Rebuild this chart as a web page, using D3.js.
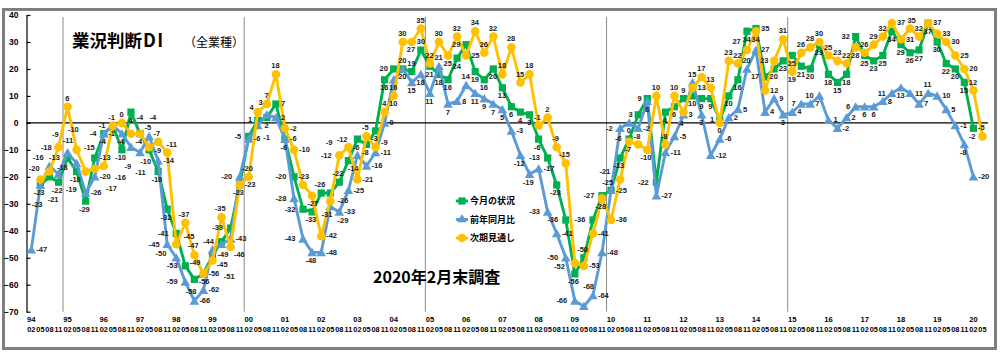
<!DOCTYPE html>
<html><head><meta charset="utf-8">
<script src="https://cdn.jsdelivr.net/npm/d3@7"></script>
<style>body{margin:0;background:#fff}svg{display:block}</style>
</head><body>
<svg id="c" width="1000" height="360"></svg>
<script>
// ---- data ----
const years = ["94","95","96","97","98","99","00","01","02","03","04","05","06","07","08","09","10","11","12","13","14","15","16","17","18","19","20"];
const quarters = ["02","05","08","11"];
const yTicks = [40,30,20,10,0,-10,-20,-30,-40,-50,-60,-70];
const seriesNames = ["今月の状況","前年同月比","次期見通し"];
// 今月の状況 (green)
const current = [null,-23,-20,-22,-13,-18,-29,-13,-4,-1,-10,4,-4,-10,-18,-32,-41,-53,-58,-56,-49,-44,-39,-23,-5,1,2,7,-6,-20,-32,-33,-26,-26,-22,-14,-6,-8,-3,16,20,20,19,27,21,18,16,24,29,19,16,20,13,6,4,3,-6,-13,-23,-36,-56,-50,-36,-27,-25,-13,-6,3,9,-22,4,6,9,10,9,9,1,10,16,34,35,17,20,23,25,21,20,29,18,15,18,32,25,23,25,34,29,26,27,37,30,22,20,15,-2];
// 前年同月比 (blue)
const yoy = [-47,-23,-16,-19,-11,-15,-26,-20,-4,-1,-4,-9,-11,-5,-14,-45,-50,-59,-66,-62,-47,-45,-43,-20,-6,-1,3,2,-6,-28,-43,-48,-48,-31,-33,-25,-12,-16,-11,0,16,20,15,18,11,21,7,8,14,11,9,7,5,-3,-12,-19,-17,-33,-41,-50,-66,-68,-64,-48,-25,-2,0,-2,8,-27,-11,-5,3,15,3,-12,-6,2,5,20,27,4,9,3,4,7,7,10,1,-2,2,6,6,6,8,11,13,11,7,11,10,5,-1,-8,-20];
// 次期見通し (orange)
const outlook = [null,-21,-18,-9,6,-10,-18,-17,-16,-1,0,-4,-4,-9,-7,-11,-45,-37,-49,-56,-51,-35,-46,-23,-20,4,7,18,-2,-10,-23,-27,-42,-29,-12,-9,-21,-5,-9,4,10,30,30,35,22,30,25,32,25,34,26,32,18,28,15,18,-1,2,-9,-15,-52,-53,-41,-28,-36,-21,-7,-8,-10,10,-8,10,4,13,17,13,0,23,22,27,34,12,23,31,19,26,28,30,25,23,22,28,26,29,32,37,31,35,32,37,33,30,25,20,12,-5];

// ---- build categories ----
const categories = [];
years.forEach(y => quarters.forEach(q => categories.push(y + "/" + q)));
categories.splice(106);

const svg = d3.select("#c");
const FONT = "'Liberation Sans', Arial, sans-serif";
const JP = "'Noto Sans CJK JP', 'Noto Sans', sans-serif";

// frame
svg.append("rect").attr("x", 3.5).attr("y", 9.5).attr("width", 992).attr("height", 339)
  .attr("fill", "#fff").attr("stroke", "#7f7f7f").attr("stroke-width", 3);

const x = d3.scaleBand().domain(categories).range([26.8, 987]).padding(0);
const bw = x.bandwidth();
const cx = c => x(c) + bw / 2;
const y = d3.scaleLinear().domain([-70, 40]).range([311.7, 15]);

// vertical separators at 95, 00, 05, 10, 15
["95/02","00/02","05/02","10/02","15/02"].forEach(c => {
  svg.append("line").attr("x1", x(c)).attr("x2", x(c)).attr("y1", 17).attr("y2", y(-70))
    .attr("stroke", "#8c8c8c").attr("stroke-width", 1);
});

// zero line
svg.append("line").attr("x1", 26.5).attr("x2", 988).attr("y1", y(0)).attr("y2", y(0))
  .attr("stroke", "#000").attr("stroke-width", 1.2);

// y axis
const ya = svg.append("g").attr("transform", "translate(26.5,0)")
  .call(d3.axisLeft(y).tickValues(yTicks).tickSize(-4).tickSizeOuter(0).tickPadding(8));
ya.select(".domain").attr("stroke", "#000").attr("stroke-width", 1.2);
ya.selectAll(".tick line").attr("stroke", "#000").attr("stroke-width", 1.2);
ya.selectAll("text").attr("font-family", FONT).attr("font-size", 8.5).attr("font-weight", "bold").attr("fill", "#000");

// x axis: quarters
const xq = svg.append("g").attr("transform", `translate(0,${y(-70)})`)
  .call(d3.axisBottom(x).tickSize(0).tickPadding(15).tickFormat(d => d.split("/")[1]));
xq.select(".domain").remove();
xq.selectAll("text").attr("font-family", FONT).attr("font-size", 7.4).attr("font-weight", "bold").attr("fill", "#000");
// x axis: years
const xy = svg.append("g").attr("transform", `translate(0,${y(-70)})`)
  .call(d3.axisBottom(x).tickSize(0).tickPadding(4.5)
    .tickValues(categories.filter(c => c.endsWith("/02")))
    .tickFormat(d => d.split("/")[0]));
xy.select(".domain").remove();
xy.selectAll("text").attr("font-family", FONT).attr("font-size", 7.6).attr("font-weight", "bold").attr("fill", "#000");

// series
const series = [
  {name: seriesNames[0], data: current, color: "#00b050", sym: d3.symbolSquare, size: 52, pref: ["below","left","right","above"]},
  {name: seriesNames[1], data: yoy, color: "#5b9bd5", sym: d3.symbolTriangle, size: 40, pref: ["right","below","left","above"]},
  {name: seriesNames[2], data: outlook, color: "#ffc000", sym: d3.symbolCircle, size: 58, pref: ["above","right","left","below"]}
];

const line = d3.line().defined(d => d.v !== null).x(d => cx(d.c)).y(d => y(d.v));
series.forEach(s => {
  const pts = s.data.map((v, i) => ({c: categories[i], v}));
  svg.append("path").datum(pts).attr("d", line).attr("fill", "none")
    .attr("stroke", s.color).attr("stroke-width", 2.9).attr("stroke-linejoin", "round");
  svg.append("g").selectAll("path").data(pts.filter(d => d.v !== null)).join("path")
    .attr("d", d3.symbol().type(s.sym).size(s.size))
    .attr("transform", d => `translate(${cx(d.c)},${y(d.v) + (s.sym === d3.symbolTriangle ? 1 : 0)})`)
    .attr("fill", s.color);
});

// ---- data labels with simple collision avoidance ----
const boxes = [];
series.forEach(s => s.data.forEach((v, i) => {
  if (v === null) return;
  const px = cx(categories[i]), py = y(v);
  boxes.push({x0: px - 3.5, x1: px + 3.5, y0: py - 3.5, y1: py + 3.5, w: 0.5});
}));
yTicks.forEach(t => boxes.push({x0: 6, x1: 25, y0: y(t) - 5, y1: y(t) + 5, w: 5}));
boxes.push({x0: 70, x1: 250, y0: 28, y1: 51, w: 3});
boxes.push({x0: 454, x1: 518, y0: 194, y1: 244, w: 3});
boxes.push({x0: 370, x1: 515, y0: 266, y1: 288, w: 3});
function overlap(a, b) {
  const ox = Math.min(a.x1, b.x1) - Math.max(a.x0, b.x0);
  const oy = Math.min(a.y1, b.y1) - Math.max(a.y0, b.y0);
  return (ox > 0 && oy > 0) ? ox * oy : 0;
}
const CH = 4.35, LH = 8.4;
const named = {
  above: (px, py, w) => ({x: px - w / 2, y: py - 4 - LH}),
  below: (px, py, w) => ({x: px - w / 2, y: py + 4}),
  right: (px, py, w) => ({x: px + 5, y: py - LH / 2}),
  left:  (px, py, w) => ({x: px - 5 - w, y: py - LH / 2})
};
const labels = [];
series.forEach(s => {
  s.data.forEach((v, i) => {
    if (v === null) return;
    const txt = String(v);
    const w = txt.length * CH + 0.4;
    const px = cx(categories[i]), py = y(v);
    const cands = s.pref.map((k, ki) => ({o: named[k](px, py, w), pen: ki * 0.5}));
    for (let dy = -24; dy <= 20; dy += 4) {
      for (let dx = -22; dx <= 22; dx += 4) {
        const o = {x: px + dx - w / 2, y: py + dy - LH / 2};
        const d = Math.hypot(dx, dy);
        cands.push({o, pen: 3 + d * 0.2});
      }
    }
    let best = null;
    cands.forEach(cd => {
      const b = {x0: cd.o.x, x1: cd.o.x + w, y0: cd.o.y, y1: cd.o.y + LH};
      let score = cd.pen;
      boxes.forEach(q => { score += overlap(b, q) * (q.w || 1) * 4; });
      if (b.y1 > 310 || b.x1 > 993 || b.x0 < 22 || b.y0 < 12) score += 1000;
      if (!best || score < best.score) best = {score, b};
    });
    boxes.push({...best.b, w: 1});
    labels.push({txt, x: best.b.x0, y: best.b.y1 - 1.9});
  });
});
svg.append("g").selectAll("text").data(labels).join("text")
  .attr("x", d => d.x).attr("y", d => d.y)
  .attr("font-family", FONT).attr("font-size", 7.5).attr("font-weight", "bold").attr("fill", "#1a1a1a")
  .text(d => d.txt);

// title
const t = svg.append("text").attr("x", 72).attr("y", 47).attr("font-family", JP).attr("font-weight", "bold").attr("fill", "#000");
t.append("tspan").attr("font-size", 17.5).text("業況判断");
t.append("tspan").attr("font-size", 18).attr("letter-spacing", 1.5).attr("dx", 1).text("DI");
svg.append("text").attr("x", 184).attr("y", 47).attr("font-family", JP).attr("font-size", 12)
  .attr("fill", "#000").text("（全業種）");

// survey note
svg.append("text").attr("x", 373).attr("y", 283).attr("font-family", JP).attr("font-weight", "bold")
  .attr("font-size", 16).attr("fill", "#000").text("2020年2月末調査");

// legend
const lg = svg.append("g");
series.forEach((s, i) => {
  const ly = 201 + i * 18.5;
  lg.append("line").attr("x1", 456).attr("x2", 468).attr("y1", ly).attr("y2", ly)
    .attr("stroke", s.color).attr("stroke-width", 2.9);
  lg.append("path").attr("d", d3.symbol().type(s.sym).size(s.size)).attr("transform", `translate(462,${ly})`)
    .attr("fill", s.color);
  lg.append("text").attr("x", 470).attr("y", ly + 3.3).attr("font-family", JP).attr("font-weight", "bold")
    .attr("font-size", 9).attr("fill", "#000").text(s.name);
});
</script>
</body></html>
